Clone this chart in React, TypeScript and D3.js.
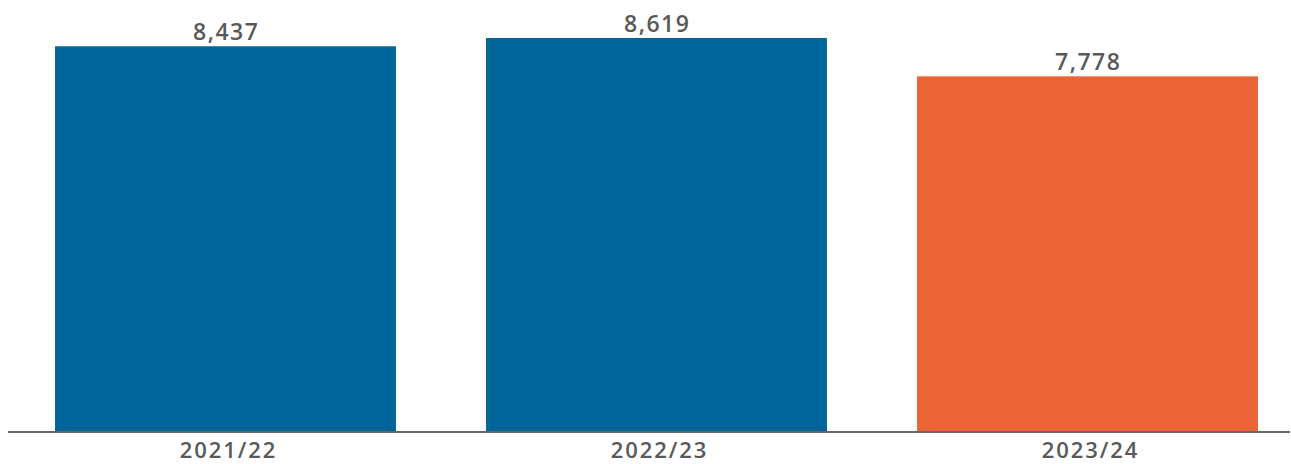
import React from "react";
import * as d3 from "d3";

const categories = ["2021/22", "2022/23", "2023/24"];
const values = [8437, 8619, 7778];
const barColors = ["#006699", "#006699", "#EA6435"];

const W = 1291;
const H = 464;
const baseY = 431;

export default function App() {
  const x = d3
    .scaleBand<string>()
    .domain(categories)
    .range([10, 10 + 3 * 431])
    .paddingInner(0.209)
    .paddingOuter(0.1045);
  const y = d3.scaleLinear().domain([0, 9452]).range([baseY, 0]);
  const fmt = d3.format(",");
  const font = "'Open Sans', 'Noto Sans', sans-serif";

  return (
    <svg
      width={W}
      height={H}
      style={{ position: "absolute", left: 0, top: 0, background: "#fff" }}
    >
      {categories.map((c, i) => (
        <g key={c}>
          <rect
            x={x(c)}
            y={y(values[i])}
            width={x.bandwidth()}
            height={baseY - y(values[i])}
            fill={barColors[i]}
          />
          <text
            x={(x(c) as number) + x.bandwidth() / 2 + 0.75}
            y={y(values[i]) - 6}
            textAnchor="middle"
            fontFamily={font}
            fontSize={23}
            fontWeight={600}
            letterSpacing={1.5}
            fill="#595959"
          >
            {fmt(values[i])}
          </text>
          <text
            x={(x(c) as number) + x.bandwidth() / 2 + 3}
            y={457.5}
            textAnchor="middle"
            fontFamily={font}
            fontSize={22}
            fontWeight={600}
            letterSpacing={1.9}
            fill="#595959"
          >
            {c}
          </text>
        </g>
      ))}
      <line x1={8} x2={1290} y1={baseY + 1} y2={baseY + 1} stroke="#666" strokeWidth={2} />
    </svg>
  );
}
